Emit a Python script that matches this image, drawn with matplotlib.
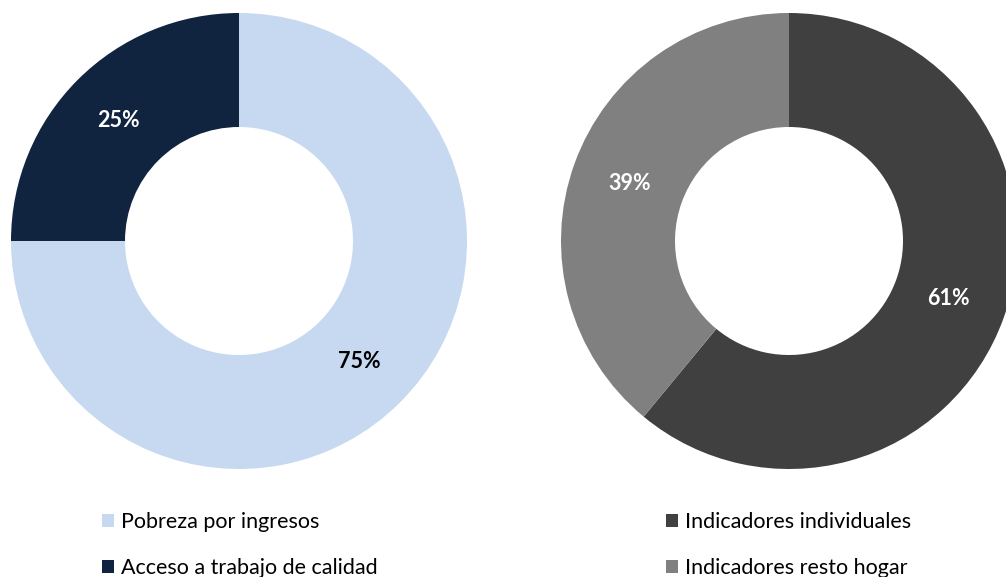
import matplotlib.pyplot as plt
from matplotlib.patches import Patch

left_labels = ["Pobreza por ingresos", "Acceso a trabajo de calidad"]
left_values = [75, 25]
left_colors = ["#C6D9F1", "#10243F"]
left_text = ["black", "white"]

right_labels = ["Indicadores individuales", "Indicadores resto hogar"]
right_values = [61, 39]
right_colors = ["#404040", "#808080"]
right_text = ["white", "white"]

plt.rcParams['font.family'] = ['Lato', 'DejaVu Sans']

W, H = 1006, 577
fig = plt.figure(figsize=(W / 100, H / 100), dpi=100)
ax = fig.add_axes([0, 0, 1, 1])


def donut(values, colors, txtcolors, cx, cy):
    wedges, texts, autotexts = ax.pie(
        values, colors=colors, startangle=90, counterclock=False,
        center=(cx, cy), radius=228, autopct='%1.0f%%', pctdistance=0.745,
        wedgeprops=dict(width=114, linewidth=0), frame=True)
    for t, c in zip(autotexts, txtcolors):
        t.set_color(c)
        t.set_fontweight('bold')
        t.set_fontsize(15.5)
    return wedges


donut(left_values, left_colors, left_text, 239, H - 241)
donut(right_values, right_colors, right_text, 789, H - 241)
ax.set_xlim(0, W)
ax.set_ylim(0, H)
ax.set_aspect('equal')
ax.axis('off')

for labels, colors, x in [(left_labels, left_colors, 102 / W), (right_labels, right_colors, 666 / W)]:
    handles = [Patch(facecolor=c, edgecolor='none') for c in colors]
    fig.legend(handles, labels, loc='center left', bbox_to_anchor=(x, 1 - 545 / H),
               frameon=False, fontsize=15.5, borderpad=0, borderaxespad=0,
               handlelength=0.56, handleheight=0.56, handletextpad=0.33,
               labelspacing=1.2)

fig.savefig("out.png", dpi=100)
